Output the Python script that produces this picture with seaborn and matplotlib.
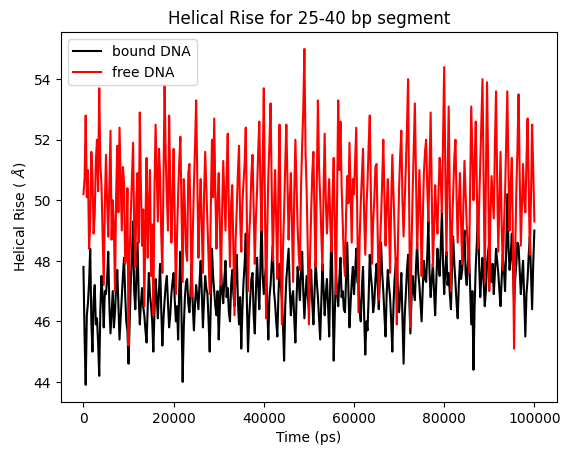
import matplotlib
matplotlib.use('Agg')
import matplotlib.pyplot as plt
import numpy as np
import seaborn as sns

"""
Helical rise of the 25-40 bp segment, bound vs free DNA
values read off the trajectory plot, one every 250 ps
"""
time_ps = np.arange(0, 100001, 250)

free_dna = [
    50.2, 50.7, 52.8, 50.1, 51.0, 48.4, 49.2, 51.6, 50.8, 48.9, 49.5, 51.3, 52.0, 50.3, 53.7, 51.2, 50.5, 48.8, 47.2, 49.9,
    51.5, 49.9, 48.8, 50.6, 52.3, 48.7, 50.0, 49.1, 47.0, 50.2, 51.8, 49.6, 52.4, 50.7, 49.0, 51.1, 50.6, 47.9, 48.2, 50.4,
    45.2, 48.3, 49.5, 50.8, 51.9, 49.2, 47.8, 50.1, 50.9, 48.6, 52.9, 50.4, 48.5, 49.7, 46.5, 49.3, 51.4, 48.1, 49.8, 51.0,
    47.5, 49.2, 46.2, 50.3, 52.5, 50.9, 49.3, 51.7, 50.8, 48.9, 47.6, 50.6, 53.8, 51.4, 50.1, 49.0, 52.8, 50.5, 48.6, 50.0,
    51.7, 49.4, 46.9, 48.8, 50.2, 51.3, 52.1, 49.6, 47.3, 50.7, 49.8, 48.3, 48.0, 50.9, 51.2, 49.5, 46.8, 48.9, 50.5, 51.8,
    53.3, 50.6, 48.1, 49.7, 50.7, 49.0, 47.6, 50.2, 51.6, 50.4, 49.2, 48.1, 46.9, 49.8, 52.0, 50.1, 52.7, 50.3, 48.4, 49.9,
    50.9, 49.2, 47.2, 49.6, 51.3, 50.2, 49.0, 50.8, 52.2, 49.5, 47.8, 49.9, 50.5, 48.3, 46.2, 48.7, 49.7, 50.9, 51.8, 49.4,
    48.3, 49.9, 50.6, 51.2, 52.4, 49.3, 47.0, 48.8, 49.6, 50.9, 51.5, 49.7, 47.9, 49.4, 50.3, 51.6, 52.6, 50.5, 49.0, 51.1,
    53.7, 49.8, 46.1, 48.9, 50.8, 51.9, 53.2, 50.4, 48.0, 49.7, 51.0, 49.3, 47.4, 50.6, 52.5, 48.8, 45.9, 48.4, 49.6, 51.2,
    52.5, 50.6, 48.7, 50.0, 50.9, 49.1, 47.3, 50.2, 52.0, 50.5, 49.1, 48.2, 47.7, 50.4, 51.8, 53.0, 55.0, 51.6, 50.3, 48.4,
    45.9, 48.1, 49.6, 50.9, 51.6, 49.4, 47.8, 50.5, 53.3, 51.1, 50.1, 48.9, 47.7, 50.3, 52.2, 50.0, 48.9, 49.8, 50.7, 49.2,
    48.3, 50.1, 51.4, 49.0, 46.9, 50.2, 53.3, 51.0, 52.6, 50.5, 49.2, 48.0, 47.5, 49.6, 50.8, 49.9, 51.9, 50.3, 48.6, 50.7,
    50.2, 51.3, 52.4, 49.1, 46.3, 48.7, 49.9, 50.8, 51.7, 49.5, 48.2, 49.7, 50.6, 51.8, 52.8, 50.2, 47.9, 49.3, 50.0, 51.1,
    51.2, 49.0, 46.7, 48.5, 49.4, 50.6, 52.0, 50.1, 48.5, 49.8, 50.7, 49.3, 47.6, 49.9, 51.5, 50.2, 49.0, 47.8, 45.9, 48.6,
    50.4, 51.5, 52.3, 50.0, 48.8, 49.9, 51.1, 52.4, 54.0, 49.6, 45.8, 48.4, 50.2, 51.7, 53.2, 50.9, 48.4, 49.5, 51.0, 49.7,
    47.5, 49.3, 50.9, 51.6, 52.0, 50.4, 49.3, 51.1, 52.9, 50.2, 47.8, 49.0, 50.5, 49.6, 48.9, 50.3, 51.4, 50.6, 49.6, 51.9,
    54.4, 51.0, 48.2, 50.7, 53.1, 50.0, 47.0, 49.1, 50.3, 51.4, 52.0, 50.1, 48.6, 49.9, 50.9, 49.2, 47.9, 49.8, 51.3, 50.2,
    49.2, 48.3, 47.6, 50.4, 53.1, 51.5, 50.0, 51.2, 52.6, 50.3, 48.4, 49.8, 51.1, 52.5, 54.0, 50.6, 47.3, 50.5, 53.9, 51.3,
    47.0, 49.4, 50.8, 50.1, 49.4, 51.8, 53.6, 50.7, 48.3, 50.0, 51.6, 49.2, 47.7, 49.1, 50.2, 51.9, 53.6, 51.0, 49.0, 50.5,
    51.4, 48.6, 45.1, 48.3, 50.3, 51.7, 53.5, 50.8, 48.5, 49.9, 51.2, 50.0, 49.6, 51.3, 52.7, 50.4, 48.2, 50.1, 52.5, 51.0,
    49.3,
]

bound_dna = [
    47.8, 45.5, 43.9, 46.2, 46.6, 47.3, 48.4, 46.0, 45.0, 46.7, 47.2, 45.9, 46.1, 45.3, 44.2, 46.4, 47.5, 46.8, 45.8, 47.0,
    46.9, 47.4, 48.3, 46.5, 45.6, 46.3, 47.0, 45.8, 46.3, 47.2, 47.7, 46.6, 45.4, 46.1, 46.8, 47.5, 48.1, 46.9, 46.0, 45.7,
    44.6, 46.0, 47.3, 48.1, 49.3, 47.0, 46.4, 47.5, 48.6, 46.8, 45.9, 46.6, 47.1, 46.5, 46.2, 45.7, 45.3, 46.4, 47.6, 46.9,
    46.5, 46.0, 45.0, 46.3, 47.4, 46.8, 46.1, 47.0, 47.9, 46.4, 45.2, 46.1, 46.7, 47.2, 47.5, 46.6, 45.8, 46.2, 46.9, 47.3,
    47.6, 46.7, 46.0, 46.5, 45.4, 47.1, 48.3, 46.2, 44.0, 45.8, 46.8, 47.3, 47.4, 46.6, 46.3, 47.0, 47.9, 46.5, 45.7, 46.6,
    47.2, 46.8, 46.4, 47.3, 48.0, 46.9, 45.8, 46.7, 47.5, 47.1, 46.9, 46.0, 45.0, 46.6, 48.4, 47.5, 47.0, 46.5, 46.2, 47.0,
    45.4, 46.5, 47.8, 47.0, 46.6, 47.4, 48.0, 46.8, 47.1, 46.3, 46.0, 47.2, 47.7, 46.9, 46.5, 47.6, 48.2, 46.7, 45.9, 46.8,
    45.1, 46.4, 47.3, 47.9, 48.9, 46.6, 45.0, 46.1, 46.8, 47.4, 47.6, 46.2, 45.6, 47.0, 48.1, 47.2, 46.4, 47.8, 49.6, 47.5,
    46.9, 47.5, 47.8, 46.5, 45.4, 46.8, 47.2, 47.9, 48.5, 47.0, 46.6, 46.0, 45.5, 46.9, 47.9, 47.2, 46.8, 45.9, 44.7, 46.5,
    47.4, 47.9, 48.4, 47.1, 46.2, 46.8, 47.0, 46.1, 45.3, 46.7, 47.8, 47.3, 46.7, 47.6, 48.3, 47.0, 46.1, 46.9, 47.5, 46.8,
    46.4, 47.2, 47.7, 46.6, 45.9, 47.0, 48.0, 47.3, 46.8, 46.1, 45.4, 46.7, 47.9, 47.1, 46.2, 46.9, 47.4, 46.5, 45.5, 47.3,
    49.2, 46.9, 44.7, 46.3, 47.6, 47.0, 46.5, 47.4, 48.1, 46.8, 47.0, 46.4, 46.3, 47.5, 48.6, 47.1, 45.8, 46.6, 47.3, 47.8,
    46.9, 47.6, 48.4, 47.3, 47.2, 46.4, 46.0, 47.1, 47.8, 46.2, 44.9, 46.0, 45.7, 46.8, 48.2, 47.5, 47.1, 46.3, 46.6, 47.4,
    47.9, 47.2, 46.4, 47.5, 48.6, 47.6, 47.0, 46.2, 45.5, 46.9, 47.7, 47.2, 46.8, 46.0, 45.0, 46.5, 47.4, 47.9, 48.1, 47.0,
    46.3, 46.9, 47.6, 46.1, 44.6, 46.2, 46.9, 47.7, 48.2, 46.8, 45.6, 46.7, 47.5, 47.0, 46.7, 47.8, 48.6, 47.6, 47.2, 46.6,
    46.0, 47.1, 48.0, 47.4, 47.3, 48.2, 49.3, 47.6, 46.8, 47.4, 47.9, 47.0, 46.2, 47.3, 48.4, 47.8, 47.5, 48.5, 49.7, 47.9,
    46.9, 47.7, 48.3, 47.2, 47.6, 46.9, 46.4, 47.8, 48.8, 47.9, 47.3, 46.6, 46.1, 47.2, 48.0, 47.4, 47.7, 48.4, 49.0, 47.6,
    47.2, 47.9, 48.4, 47.1, 45.9, 47.0, 44.4, 46.5, 47.8, 48.6, 49.8, 47.9, 46.8, 47.5, 48.1, 47.3, 46.5, 47.0, 47.9, 48.3,
    48.6, 47.8, 47.3, 47.9, 46.9, 47.6, 48.4, 48.0, 47.6, 47.0, 46.5, 47.4, 48.2, 47.7, 47.0, 48.3, 50.2, 48.5, 47.7, 48.1,
    48.9, 47.8, 46.6, 47.4, 47.9, 48.6, 48.5, 47.7, 46.9, 47.5, 48.0, 46.8, 45.5, 46.9, 47.4, 48.2, 48.8, 47.6, 46.4, 47.9,
    49.0,
]

fig = plt.figure(figsize=(6.4, 4.8), dpi=100)
ax = sns.lineplot(x=time_ps, y=bound_dna, color='black', label='bound DNA', errorbar=None, linewidth=1.5)
ax = sns.lineplot(x=time_ps, y=free_dna, color='red', label='free DNA', errorbar=None, linewidth=1.5, ax=ax)

ax.set_title('Helical Rise for 25-40 bp segment')
ax.set_xlabel('Time (ps)')
ax.set_ylabel(r'Helical Rise ( $\AA$)')
ax.legend(loc='upper left')

plt.savefig('out.png', dpi=fig.dpi, bbox_inches='tight')
